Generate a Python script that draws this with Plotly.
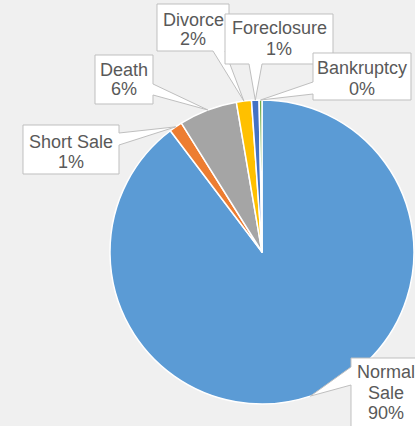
import math
import plotly.graph_objects as go

# Reasons for sale, in drawing order (clockwise from 12 o'clock)
reasons = ["Normal Sale", "Short Sale", "Death", "Divorce", "Foreclosure", "Bankruptcy"]
shares = [89.7, 1.4, 6.2, 1.6, 0.8, 0.3]
colors = ["#5B9BD5", "#ED7D31", "#A5A5A5", "#FFC000", "#4472C4", "#70AD47"]

W, H = 415, 426
CX, CY, R = 262, 252, 152  # pie centre and radius in pixels

# Callout boxes: (x0, y0, x1, y1), side carrying the pointer, pointer base span
callouts = {
    "Normal Sale": ((351, 358, 421, 430), "left", (367, 385)),
    "Short Sale": ((23, 125, 119, 174), "right", (133, 145)),
    "Death": ((95, 55, 153, 104), "right", (84, 95)),
    "Divorce": ((157, 4, 229, 51), "bottom", (213, 225)),
    "Foreclosure": ((225, 14, 333, 64), "bottom", (249, 262)),
    "Bankruptcy": ((313, 53, 411, 100), "left", (82, 94)),
}
# Label lines: x centre and the y of each text line
label_lines = {
    "Normal Sale": (386, ["Normal", "Sale"], [372, 393, 413]),
    "Short Sale": (71, ["Short Sale"], [142, 162]),
    "Death": (124, ["Death"], [70, 89]),
    "Divorce": (193, ["Divorce"], [20, 39]),
    "Foreclosure": (279, ["Foreclosure"], [28, 49]),
    "Bankruptcy": (362, ["Bankruptcy"], [68, 89]),
}


def px(x, y):
    return x / W, 1 - y / H


def callout_path(box, side, span, tip):
    x0, y0, x1, y1 = box
    a, b = span
    if side == "top":
        pts = [(x0, y0), (a, y0), tip, (b, y0), (x1, y0), (x1, y1), (x0, y1)]
    elif side == "right":
        pts = [(x0, y0), (x1, y0), (x1, a), tip, (x1, b), (x1, y1), (x0, y1)]
    elif side == "bottom":
        pts = [(x0, y0), (x1, y0), (x1, y1), (b, y1), tip, (a, y1), (x0, y1)]
    else:
        pts = [(x0, y0), (x1, y0), (x1, y1), (x0, y1), (x0, b), tip, (x0, a)]
    coords = [px(x, y) for x, y in pts]
    return "M " + " L ".join(f"{x:.5f},{y:.5f}" for x, y in coords) + " Z"


fig = go.Figure(
    go.Pie(
        labels=reasons,
        values=shares,
        sort=False,
        direction="clockwise",
        rotation=0,
        marker=dict(colors=colors, line=dict(color="white", width=1.5)),
        textinfo="none",
        showlegend=False,
        domain=dict(
            x=[(CX - R) / W, (CX + R) / W],
            y=[1 - (CY + R) / H, 1 - (CY - R) / H],
        ),
    )
)

total = sum(shares)
shapes, annotations = [], []
cum = 0.0
for name, v in zip(reasons, shares):
    mid = (cum + v / 2) / total * 2 * math.pi
    cum += v
    tip = (CX + R * math.sin(mid), CY - R * math.cos(mid))
    box, side, span = callouts[name]
    shapes.append(
        dict(
            type="path",
            xref="paper",
            yref="paper",
            path=callout_path(box, side, span, tip),
            fillcolor="white",
            line=dict(color="#BFBFBF", width=1),
            layer="above",
        )
    )
    xc, words, ys = label_lines[name]
    pct = round(v / total * 100)
    for line, yl in zip(words + [f"{pct}%"], ys):
        tx, ty = px(xc, yl)
        annotations.append(
            dict(
                x=tx,
                y=ty,
                xref="paper",
                yref="paper",
                xanchor="center",
                yanchor="middle",
                showarrow=False,
                text=line,
                font=dict(family="Liberation Sans, Arial", size=18, color="#595959"),
            )
        )

fig.update_layout(
    width=W,
    height=H,
    margin=dict(l=0, r=0, t=0, b=0),
    paper_bgcolor="#F0F0F0",
    plot_bgcolor="#F0F0F0",
    shapes=shapes,
    annotations=annotations,
)

fig.write_html("out.html")
